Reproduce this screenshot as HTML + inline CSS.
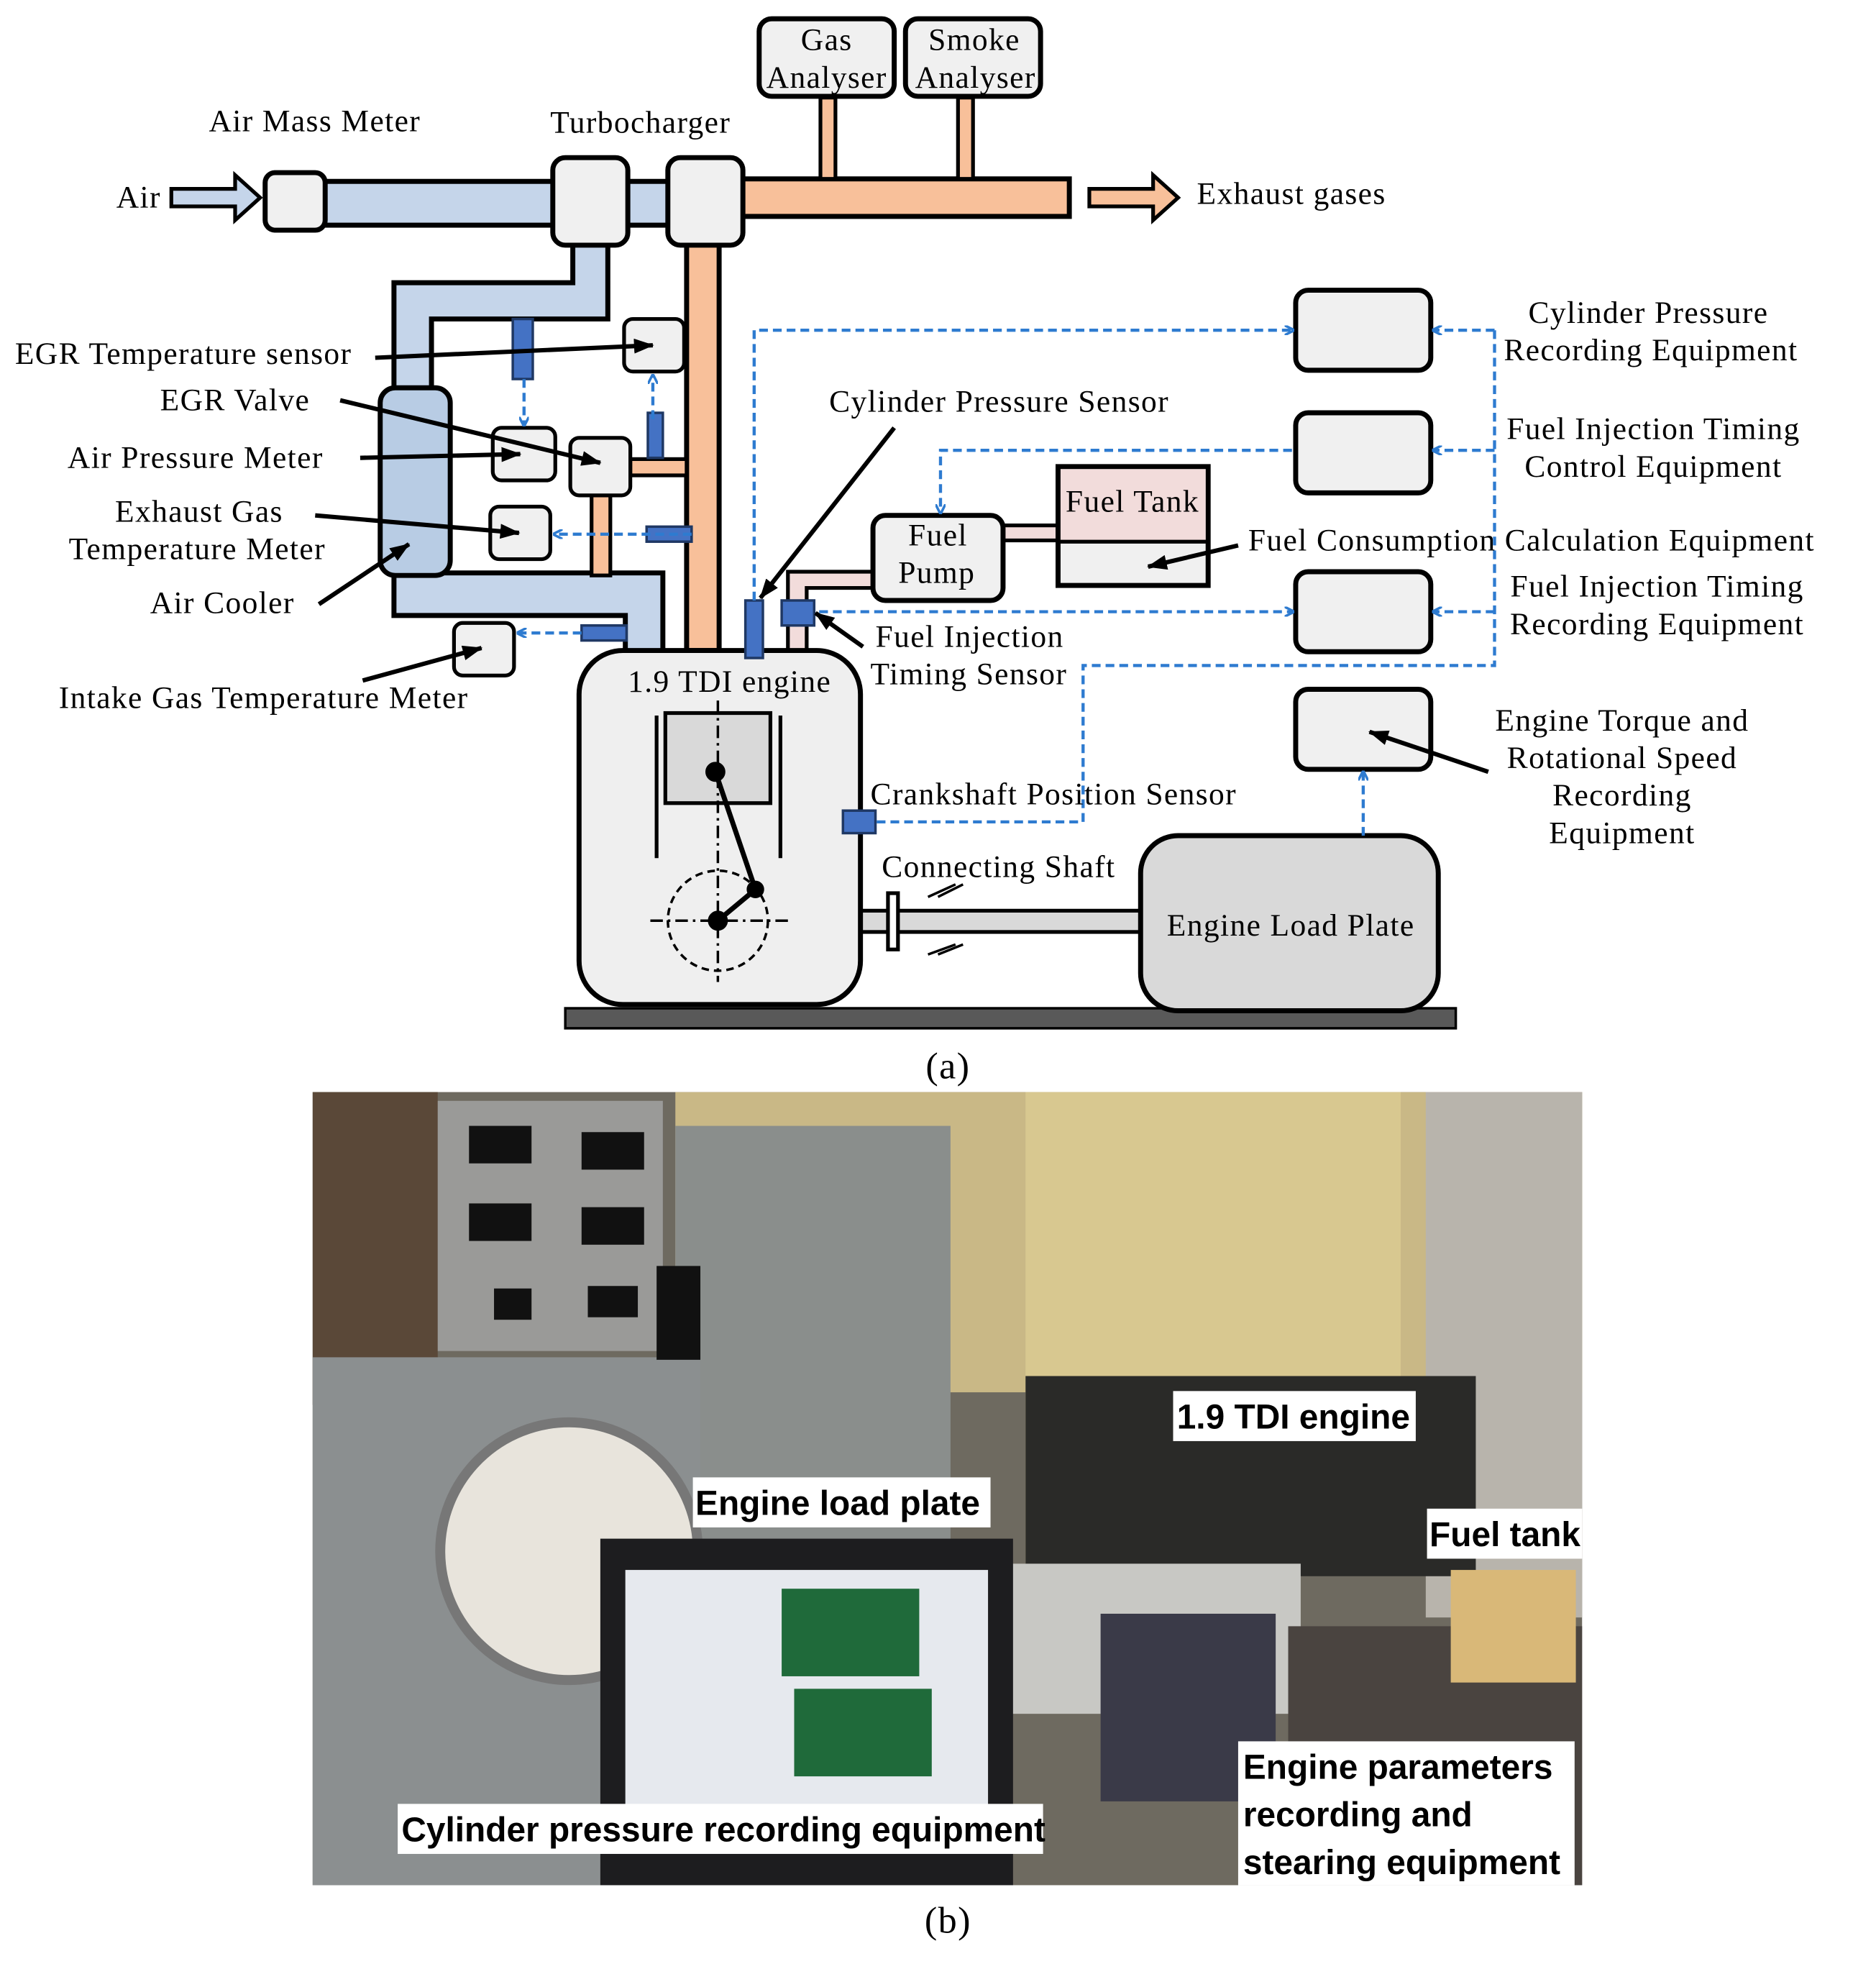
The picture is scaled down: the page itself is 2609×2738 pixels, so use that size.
<!DOCTYPE html>
<html><head><meta charset="utf-8"><style>
html,body{margin:0;padding:0;background:#fff;}
svg{display:block;}
text{font-family:"Liberation Serif",serif;font-size:25px;letter-spacing:0.8px;fill:#000;}
.lb{font-family:"Liberation Sans",sans-serif;font-size:27.5px;font-weight:bold;letter-spacing:0;}
</style></head><body>
<svg width="2609" height="2738" viewBox="0 0 1500 1574" preserveAspectRatio="none" xmlns="http://www.w3.org/2000/svg">
<defs>
<marker id="ab" markerWidth="8" markerHeight="8" refX="7" refY="4" orient="auto" markerUnits="userSpaceOnUse"><path d="M0,0 L8,4 L0,8" fill="none" stroke="#2e7bd0" stroke-width="2"/></marker>
<marker id="ak" markerWidth="16" markerHeight="12" refX="15" refY="6" orient="auto" markerUnits="userSpaceOnUse"><path d="M0,0 L16,6 L0,12 z" fill="#000"/></marker>
</defs>
<rect width="1500" height="1574" fill="#fff"/>
<g stroke="#000" stroke-width="4">
<path d="M137,151 L188,151 L188,140 L208,158 L188,176 L188,165 L137,165 z" fill="#c5d5ea" stroke-width="3"/>
<path d="M871,151 L922,151 L922,140 L942,158 L922,176 L922,165 L871,165 z" fill="#f8c09a" stroke-width="3"/>
<rect x="258" y="145" width="186" height="35" fill="#c5d5ea"/>
<rect x="500" y="145" width="36" height="35" fill="#c5d5ea"/>
<path d="M458,195 L486,195 L486,255 L345,255 L345,312 L315,312 L315,226 L458,226 z" fill="#c5d5ea"/>
<path d="M315,458 L530,458 L530,522 L500,522 L500,492 L315,492 z" fill="#c5d5ea"/>
<rect x="304" y="310" width="56" height="150" rx="12" fill="#b8cce4"/>
<rect x="592" y="143" width="263" height="30" fill="#f8c09a"/>
<rect x="656" y="78" width="12" height="65" fill="#f8c09a" stroke-width="3"/>
<rect x="766" y="78" width="12" height="65" fill="#f8c09a" stroke-width="3"/>
<rect x="549" y="195" width="26" height="325" fill="#f8c09a"/>
<rect x="504" y="367" width="45" height="13" fill="#f8c09a" stroke-width="3"/>
<rect x="473" y="395" width="15" height="65" fill="#f8c09a" stroke-width="3"/>
<rect x="802" y="420" width="46" height="12" fill="#f2dcdb" stroke-width="3"/>
<path d="M698,457 L698,470 L645,470 L645,528 L630,528 L630,457 z" fill="#f2dcdb" stroke-width="3"/>
<rect x="212" y="138" width="48" height="46" rx="8" fill="#f0f0f0"/>
<rect x="442" y="126" width="60" height="70" rx="10" fill="#f0f0f0"/>
<rect x="534" y="126" width="60" height="70" rx="10" fill="#f0f0f0"/>
<rect x="607" y="15" width="108" height="62" rx="10" fill="#f0f0f0"/>
<rect x="724" y="15" width="108" height="62" rx="10" fill="#f0f0f0"/>
<rect x="499" y="255" width="48" height="42" rx="7" fill="#f0f0f0" stroke-width="3"/>
<rect x="394" y="342" width="50" height="42" rx="7" fill="#f0f0f0" stroke-width="3"/>
<rect x="456" y="350" width="48" height="46" rx="7" fill="#f0f0f0" stroke-width="3"/>
<rect x="392" y="405" width="48" height="42" rx="7" fill="#f0f0f0" stroke-width="3"/>
<rect x="363" y="498" width="48" height="42" rx="7" fill="#f0f0f0" stroke-width="3"/>
<rect x="1036" y="232" width="108" height="64" rx="10" fill="#f0f0f0"/>
<rect x="1036" y="330" width="108" height="64" rx="10" fill="#f0f0f0"/>
<rect x="1036" y="457" width="108" height="64" rx="10" fill="#f0f0f0"/>
<rect x="1036" y="551" width="108" height="64" rx="10" fill="#f0f0f0"/>
<rect x="846" y="373" width="120" height="95" fill="#f0f0f0"/>
<rect x="848" y="375" width="116" height="58" fill="#f2dcdb" stroke="none"/>
<line x1="846" y1="433" x2="966" y2="433" stroke-width="3"/>
<rect x="698" y="412" width="104" height="68" rx="10" fill="#f0f0f0"/>
<rect x="452" y="806" width="712" height="16" fill="#595959" stroke-width="2"/>
<rect x="688" y="728" width="224" height="17" fill="#d9d9d9" stroke-width="3"/>
<rect x="710" y="714" width="8" height="45" fill="#fff" stroke-width="3"/>
<rect x="463" y="520" width="225" height="283" rx="35" fill="#efefef"/>
<rect x="532" y="570" width="84" height="72" fill="#d9d9d9" stroke-width="3"/>
<line x1="525" y1="572" x2="525" y2="686" stroke-width="3"/>
<line x1="624" y1="572" x2="624" y2="686" stroke-width="3"/>
<line x1="574" y1="560" x2="574" y2="785" stroke-width="2" stroke-dasharray="10,4,2,4"/>
<line x1="520" y1="736" x2="630" y2="736" stroke-width="2" stroke-dasharray="10,4,2,4"/>
<circle cx="574" cy="736" r="40" fill="none" stroke-width="2" stroke-dasharray="6,4"/>
<polyline points="572,617 604,711 574,736" fill="none" stroke-width="4"/>
<circle cx="572" cy="617" r="6" fill="#000"/><circle cx="604" cy="711" r="5" fill="#000"/><circle cx="574" cy="736" r="6" fill="#000"/>
<rect x="912" y="668" width="238" height="140" rx="30" fill="#d9d9d9"/>
<path d="M742,717 L764,707 M750,717 L770,707 M742,763 L764,755 M750,763 L770,755" stroke-width="2"/>
<g fill="#4472c4" stroke="#1f3864" stroke-width="2">
<rect x="410" y="255" width="16" height="48"/><rect x="518" y="330" width="12" height="36"/>
<rect x="517" y="421" width="36" height="12"/><rect x="465" y="500" width="36" height="12"/>
<rect x="596" y="480" width="14" height="46"/><rect x="625" y="480" width="26" height="20"/>
<rect x="674" y="648" width="26" height="18"/>
</g>
</g>
<g stroke="#2e7bd0" stroke-width="2.5" stroke-dasharray="7,4" fill="none" marker-end="url(#ab)">
<polyline points="603,480 603,264 1034,264"/>
<polyline points="1195,264 1146,264"/>
<polyline points="1195,360 1146,360"/>
<polyline points="1195,489 1146,489"/>
<polyline points="1033,360 752,360 752,410"/>
<polyline points="655,489 1034,489"/>
<polyline points="1090,668 1090,617"/>
<polyline points="419,303 419,340"/>
<polyline points="522,335 522,300"/>
<polyline points="553,427 443,427"/>
<polyline points="465,506 414,506"/>
</g>
<polyline points="1195,264 1195,532 866,532 866,657 700,657" stroke="#2e7bd0" stroke-width="2.5" stroke-dasharray="7,4" fill="none"/>
<g stroke="#000" stroke-width="3.5" marker-end="url(#ak)">
<line x1="300" y1="286" x2="522" y2="276"/>
<line x1="272" y1="320" x2="480" y2="370"/>
<line x1="288" y1="366" x2="416" y2="363"/>
<line x1="252" y1="412" x2="415" y2="426"/>
<line x1="255" y1="483" x2="327" y2="435"/>
<line x1="290" y1="544" x2="385" y2="518"/>
<line x1="715" y1="342" x2="608" y2="478"/>
<line x1="690" y1="517" x2="652" y2="490"/>
<line x1="990" y1="436" x2="918" y2="453"/>
<line x1="1190" y1="617" x2="1095" y2="585"/>
</g>
<text x="661" y="40" text-anchor="middle">Gas</text><text x="661" y="70" text-anchor="middle">Analyser</text>
<text x="779" y="40" text-anchor="middle">Smoke</text><text x="780" y="70" text-anchor="middle">Analyser</text>
<text x="167" y="105">Air Mass Meter</text>
<text x="440" y="106">Turbocharger</text>
<text x="93" y="166">Air</text>
<text x="957" y="163">Exhaust gases</text>
<text x="12" y="291">EGR Temperature sensor</text>
<text x="128" y="328">EGR Valve</text>
<text x="54" y="374">Air Pressure Meter</text>
<text x="92" y="417">Exhaust Gas</text>
<text x="55" y="447">Temperature Meter</text>
<text x="120" y="490">Air Cooler</text>
<text x="47" y="566">Intake Gas Temperature Meter</text>
<text x="663" y="329">Cylinder Pressure Sensor</text>
<text x="852" y="409">Fuel Tank</text>
<text x="750" y="436" text-anchor="middle">Fuel</text><text x="749" y="466" text-anchor="middle">Pump</text>
<text x="700" y="517">Fuel Injection</text><text x="696" y="547">Timing Sensor</text>
<text x="502" y="553">1.9 TDI engine</text>
<text x="696" y="643">Crankshaft Position Sensor</text>
<text x="705" y="701">Connecting Shaft</text>
<text x="933" y="748">Engine Load Plate</text>
<text x="1318" y="258" text-anchor="middle">Cylinder Pressure</text>
<text x="1320" y="288" text-anchor="middle">Recording Equipment</text>
<text x="1322" y="351" text-anchor="middle">Fuel Injection Timing</text>
<text x="1322" y="381" text-anchor="middle">Control Equipment</text>
<text x="998" y="440">Fuel Consumption Calculation Equipment</text>
<text x="1325" y="477" text-anchor="middle">Fuel Injection Timing</text>
<text x="1325" y="507" text-anchor="middle">Recording Equipment</text>
<text x="1297" y="584" text-anchor="middle">Engine Torque and</text>
<text x="1297" y="614" text-anchor="middle">Rotational Speed</text>
<text x="1297" y="644" text-anchor="middle">Recording</text>
<text x="1297" y="674" text-anchor="middle">Equipment</text>
<text x="758" y="862" text-anchor="middle" style="font-size:30px">(a)</text>
<g>
<rect x="250" y="873" width="1015" height="634" fill="#6e6a60"/>
<rect x="540" y="873" width="725" height="240" fill="#c9b886"/>
<rect x="820" y="873" width="300" height="380" fill="#d8c890"/>
<rect x="1140" y="873" width="125" height="420" fill="#b8b4ac"/>
<rect x="250" y="873" width="100" height="250" fill="#5a4838"/>
<rect x="350" y="880" width="180" height="200" fill="#9a9a98"/>
<rect x="540" y="900" width="220" height="340" fill="#8a8e8c"/>
<rect x="250" y="1085" width="310" height="422" fill="#8b8f90"/>
<circle cx="455" cy="1240" r="103" fill="#e8e4dc" stroke="#777" stroke-width="8"/>
<rect x="820" y="1100" width="360" height="160" fill="#2a2a28"/>
<rect x="780" y="1250" width="260" height="120" fill="#c8c8c4"/>
<rect x="480" y="1230" width="330" height="277" fill="#1d1d1f"/>
<rect x="500" y="1255" width="290" height="220" fill="#e6e9ee"/>
<rect x="625" y="1270" width="110" height="70" fill="#1f6a3a"/><rect x="635" y="1350" width="110" height="70" fill="#1f6a3a"/>
<rect x="880" y="1290" width="140" height="150" fill="#3a3a48"/>
<rect x="1030" y="1300" width="235" height="207" fill="#4a4440"/>
<rect x="1160" y="1255" width="100" height="90" fill="#d9b878"/>
<rect x="375" y="900" width="50" height="30" fill="#111"/><rect x="465" y="905" width="50" height="30" fill="#111"/>
<rect x="375" y="962" width="50" height="30" fill="#111"/><rect x="465" y="965" width="50" height="30" fill="#111"/>
<rect x="395" y="1030" width="30" height="25" fill="#111"/><rect x="470" y="1028" width="40" height="25" fill="#111"/>
<rect x="525" y="1012" width="35" height="75" fill="#111"/>
<rect x="938" y="1112" width="194" height="40" fill="#fff"/><text x="941" y="1142" class="lb">1.9 TDI engine</text>
<rect x="554" y="1181" width="238" height="40" fill="#fff"/><text x="556" y="1211" class="lb">Engine load plate</text>
<rect x="1141" y="1206" width="124" height="40" fill="#fff"/><text x="1143" y="1236" class="lb">Fuel tank</text>
<rect x="318" y="1442" width="516" height="40" fill="#fff"/><text x="321" y="1472" class="lb">Cylinder pressure recording equipment</text>
<rect x="990" y="1392" width="269" height="115" fill="#fff"/>
<text x="994" y="1422" class="lb">Engine parameters</text>
<text x="994" y="1460" class="lb">recording and</text>
<text x="994" y="1498" class="lb">stearing equipment</text>
</g>
<text x="758" y="1545" text-anchor="middle" style="font-size:30px">(b)</text>
</svg>
</body></html>
